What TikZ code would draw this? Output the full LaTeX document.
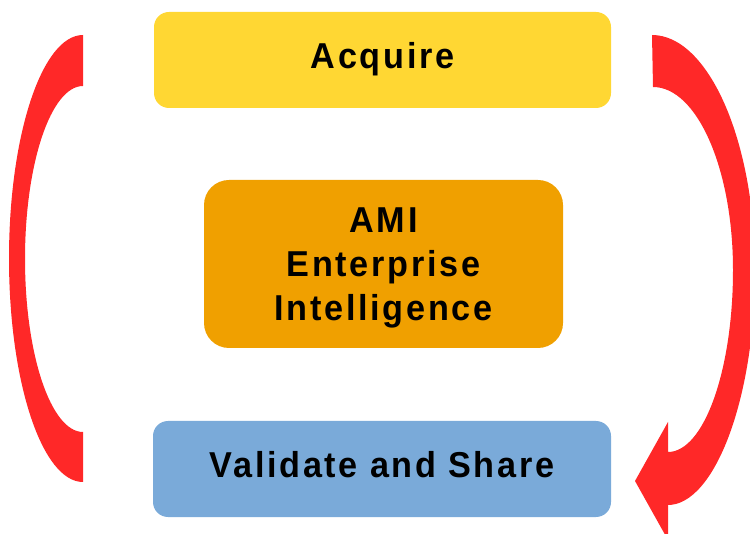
\documentclass[tikz,border=0pt]{standalone}
\usepackage{fontspec}
\newfontfamily\lblfont[LetterSpace=7.5,FakeStretch=0.95]{Liberation Sans}
\definecolor{acqyellow}{HTML}{FFD733}
\definecolor{amiorange}{HTML}{F0A000}
\definecolor{valblue}{HTML}{7AAAD9}
\definecolor{cyclered}{HTML}{FF2828}
\tikzset{
  stagebox/.style={rectangle, rounded corners=15pt, inner sep=0pt, align=center,
    font=\lblfont\bfseries\fontsize{36}{44}\selectfont, text=black},
  oneline/.style={text height=26pt, text depth=8pt},
  cyclearrow/.style={fill=cyclered, draw=none}
}
\begin{document}
\begin{tikzpicture}[x=1pt, y=-1pt]
  \useasboundingbox (0,0) rectangle (750,534);
  \clip (0,0) rectangle (750,534);

  % stages
  \node[stagebox, oneline, fill=acqyellow, minimum width=457pt, minimum height=96pt]
    (acquire) at (382.5,60) {Acquire};
  \node[stagebox, text depth=-2pt, fill=amiorange, rounded corners=25pt,
        minimum width=359pt, minimum height=168pt]
    (ami) at (383.5,264) {AMI\\Enterprise\\Intelligence};
  \node[stagebox, oneline, fill=valblue, minimum width=458pt, minimum height=96pt]
    (validate) at (382,469) {Validate and Share};

  % left return band
  \fill[cyclearrow]
    (83,35) .. controls (42.1,35) and (9,135.1) .. (9,258.5)
            .. controls (9,381.9) and (42.1,482) .. (83,482)
    -- (83,432)
            .. controls (51,432) and (25,354.5) .. (25,259)
            .. controls (25,163.5) and (51,86) .. (83,86)
    -- cycle;

  % right block arrow, from Acquire down to Validate and Share
  \fill[cyclearrow]
    (652,35) .. controls (708,35) and (755,140) .. (755,270)
             .. controls (755,400) and (714,505) .. (668,505)
    -- (668,540) -- (635,481) -- (668,422) -- (668,452)
             .. controls (704,452) and (733,370) .. (733,270)
             .. controls (733,169) and (697,87) .. (653,87)
    -- cycle;
\end{tikzpicture}
\end{document}
